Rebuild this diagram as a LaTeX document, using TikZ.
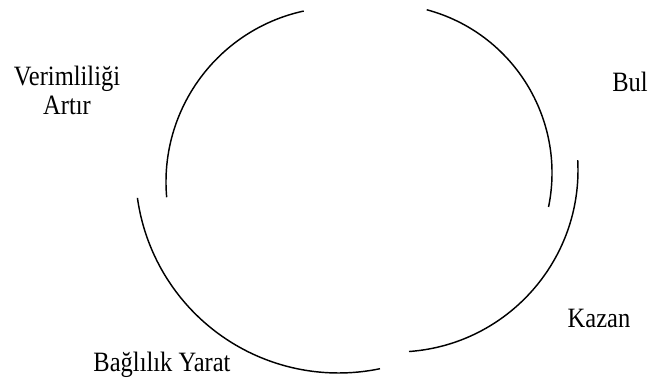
\documentclass[tikz,border=0pt]{standalone}
\usepackage{fontspec}
\usepackage{graphicx}
\setmainfont{Liberation Serif}
\newcommand{\tallt}[1]{\scalebox{0.98}[1.12]{#1}}
\begin{document}
\begin{tikzpicture}[x=1pt,y=1pt,
  cyclearc/.style={draw=black,line width=1.45pt},
  lbl/.style={inner sep=0pt,anchor=base,font=\fontsize{25}{29}\selectfont,text=black}]
\useasboundingbox (0,0) rectangle (651,380);
% labels
\node[lbl] (verim) at (67,294) {\tallt{Verimliliği}};
\node[lbl] (artir) at (67,265) {\tallt{Artır}};
\node[lbl] (bul) at (630,288) {\tallt{Bul}};
\node[lbl] (kazan) at (599,52) {\tallt{Kazan}};
\node[lbl] (bagli) at (162,8) {\tallt{Bağlılık Yarat}};
% arc start points
\coordinate (aA) at ({341+175*cos(102.3)},{198+175*sin(102.3)});
\coordinate (aB) at ({383+169*cos(75)},{207+169*sin(75)});
\coordinate (aC) at ({396+182*cos(3.1)},{210+182*sin(3.1)});
\coordinate (aD) at ({338.5+203*cos(187.9)},{210+203*sin(187.9)});
% arcs
\draw[cyclearc] (aA) arc[start angle=102.3,end angle=185,radius=175];
\draw[cyclearc] (aB) arc[start angle=75,end angle=-11.6,radius=169];
\draw[cyclearc] (aC) arc[start angle=3.1,end angle=-85.9,radius=182];
\draw[cyclearc] (aD) arc[start angle=187.9,end angle=281.8,radius=203];
\end{tikzpicture}
\end{document}
